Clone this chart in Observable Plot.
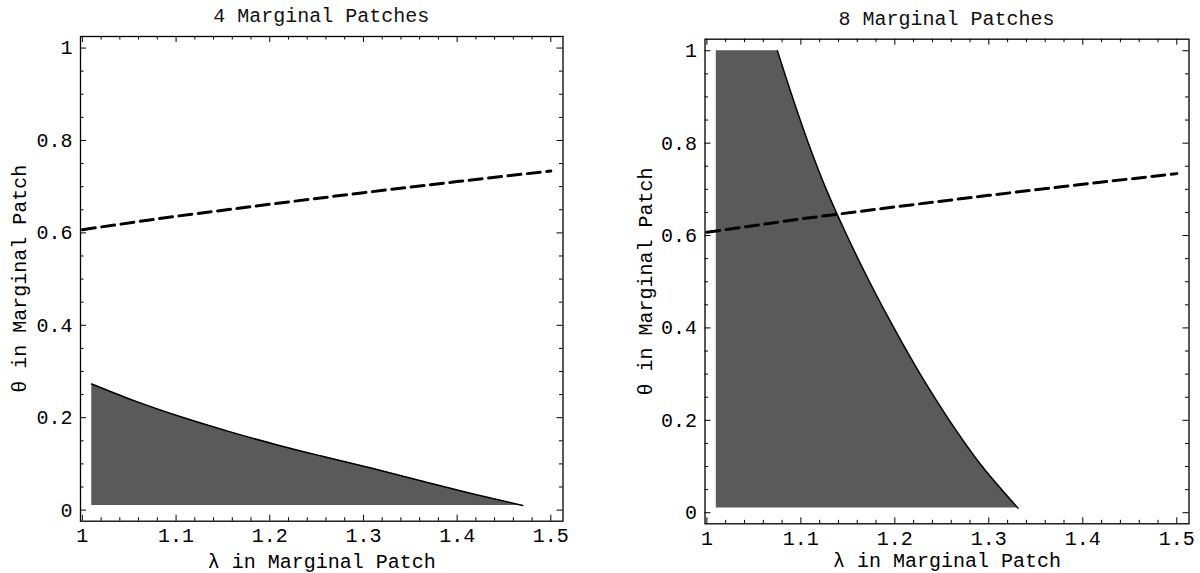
<!DOCTYPE html>
<html><head><meta charset="utf-8">
<script src="https://cdn.jsdelivr.net/npm/d3@7"></script>
<script src="https://cdn.jsdelivr.net/npm/@observablehq/plot@0.6"></script>
<style>
html,body{margin:0;padding:0;background:#fff;}
#wrap{position:relative;width:1200px;height:573px;overflow:hidden;font-family:"Liberation Mono","Courier New",monospace;background:#fff;}
.panel{position:absolute;top:0;width:600px;height:573px;}
.title{position:absolute;font-size:20px;line-height:20px;text-align:center;color:#111;white-space:pre;z-index:2;}
.panel svg{position:absolute;left:0;z-index:1;}
</style></head><body><div id="wrap"></div>
<script>
// ---- data ----
const titles = ["4 Marginal Patches", "8 Marginal Patches"];
const xLabel = "λ in Marginal Patch";
const yLabel = "θ in Marginal Patch";

const xTicks = [1, 1.1, 1.2, 1.3, 1.4, 1.5];
const xTickLabels = ["1", "1.1", "1.2", "1.3", "1.4", "1.5"];
const xMinorTicks = [1.02,1.04,1.06,1.08,1.12,1.14,1.16,1.18,1.22,1.24,1.26,1.28,1.32,1.34,1.36,1.38,1.42,1.44,1.46,1.48];
const yTicks = [0, 0.2, 0.4, 0.6, 0.8, 1];
const yTickLabels = ["0", "0.2", "0.4", "0.6", "0.8", "1"];
const yMinorTicks = [0.05,0.1,0.15,0.25,0.3,0.35,0.45,0.5,0.55,0.65,0.7,0.75,0.85,0.9,0.95];

const xDomain = [0.998, 1.513];
const yDomain = [-0.024, 1.025];

// dashed line (same in both panels)
const lambdaDash = [1.0, 1.1, 1.2, 1.3, 1.4, 1.5];
const thetaDash  = [0.607, 0.636, 0.662, 0.687, 0.711, 0.734];

// 4 marginal patches: shaded region under theta(lambda)
const lambda4 = [1.01, 1.055, 1.105, 1.155, 1.21, 1.255, 1.308, 1.36, 1.415, 1.47];
const theta4  = [0.273, 0.237, 0.202, 0.171, 0.140, 0.117, 0.091, 0.064, 0.036, 0.01];
const theta4Base = 0.01;

// 8 marginal patches: shaded region left of lambda(theta)
const theta8  = [1.0, 0.9, 0.8, 0.7, 0.6, 0.5, 0.4, 0.3, 0.2, 0.1, 0.01];
const lambda8 = [1.075, 1.091, 1.108, 1.127, 1.149, 1.173, 1.199, 1.227, 1.258, 1.293, 1.331];
const lambda8Base = 1.01;

// ---- layout ----
const panels = [
  {left: 0,   titleTop: 7,  svgTop: 24, mt: 12,   mb: 52.3, ml: 80,    mr: 37.5, yLabelOffset: 69, xLabelOffset: 47},
  {left: 600, titleTop: 10, svgTop: 24, mt: 14.7, mb: 49.7, ml: 104.5, mr: 11.5, yLabelOffset: 67, xLabelOffset: 43}
];
const W = 600, H = 573 - 24;
const fill = "#5a5a5a";

const dash = lambdaDash.map((x, i) => ({x, y: thetaDash[i]}));
const region4 = lambda4.map((x, i) => ({x, y: theta4[i], base: theta4Base}));
const region8 = theta8.map((y, i) => ({y, x: lambda8[i], base: lambda8Base}));

const wrap = document.getElementById("wrap");

panels.forEach((p, k) => {
  const div = document.createElement("div");
  div.className = "panel";
  div.style.left = p.left + "px";

  const innerW = W - p.ml - p.mr, innerH = H - p.mt - p.mb;
  const xpp = (xDomain[1] - xDomain[0]) / innerW;
  const ypp = (yDomain[1] - yDomain[0]) / innerH;
  const major = 6, minor = 3.5;

  const tickMarks = [
    Plot.ruleX(xTicks, {x: d => d, y1: yDomain[0], y2: yDomain[0] + major * ypp, stroke: "black"}),
    Plot.ruleX(xMinorTicks, {x: d => d, y1: yDomain[0], y2: yDomain[0] + minor * ypp, stroke: "black"}),
    Plot.ruleX(xTicks, {x: d => d, y1: yDomain[1] - major * ypp, y2: yDomain[1], stroke: "black"}),
    Plot.ruleX(xMinorTicks, {x: d => d, y1: yDomain[1] - minor * ypp, y2: yDomain[1], stroke: "black"}),
    Plot.ruleY(yTicks, {y: d => d, x1: xDomain[0], x2: xDomain[0] + major * xpp, stroke: "black"}),
    Plot.ruleY(yMinorTicks, {y: d => d, x1: xDomain[0], x2: xDomain[0] + minor * xpp, stroke: "black"}),
    Plot.ruleY(yTicks, {y: d => d, x1: xDomain[1] - major * xpp, x2: xDomain[1], stroke: "black"}),
    Plot.ruleY(yMinorTicks, {y: d => d, x1: xDomain[1] - minor * xpp, x2: xDomain[1], stroke: "black"})
  ];

  const regionMarks = k === 0 ? [
    Plot.areaY(region4, {x: "x", y1: "base", y2: "y", fill, curve: "monotone-x"}),
    Plot.line(region4, {x: "x", y: "y", stroke: "black", strokeWidth: 1.5, curve: "monotone-x"})
  ] : [
    Plot.areaX(region8, {y: "y", x1: "base", x2: "x", fill, curve: "monotone-y"}),
    Plot.line(region8, {x: "x", y: "y", stroke: "black", strokeWidth: 1.5, curve: "monotone-y"})
  ];

  const svg = Plot.plot({
    width: W, height: H,
    marginTop: p.mt, marginBottom: p.mb, marginLeft: p.ml, marginRight: p.mr,
    x: {domain: xDomain},
    y: {domain: yDomain},
    style: {fontFamily: '"Liberation Mono","Courier New",monospace', fontSize: "20px", color: "black", background: "white"},
    marks: [
      ...regionMarks,
      Plot.line(dash, {x: "x", y: "y", stroke: "black", strokeWidth: 3, strokeDasharray: "13,6.5"}),
      ...tickMarks,
      Plot.frame({stroke: "black", strokeWidth: 1.3}),
      Plot.axisX({ticks: xTicks, tickSize: 0, tickPadding: 7, tickFormat: d => xTickLabels[xTicks.indexOf(d)],
        label: xLabel, labelAnchor: "center", labelOffset: p.xLabelOffset, labelArrow: false, fill: "black"}),
      Plot.axisY({ticks: yTicks, tickSize: 0, tickPadding: 8, tickFormat: d => yTickLabels[yTicks.indexOf(d)],
        label: yLabel, labelAnchor: "center", labelOffset: p.yLabelOffset, labelArrow: false, fill: "black"})
    ]
  });
  svg.style.top = p.svgTop + "px";
  div.appendChild(svg);

  const t = document.createElement("div");
  t.className = "title";
  t.textContent = titles[k];
  t.style.left = p.ml + "px";
  t.style.width = (W - p.ml - p.mr) + "px";
  t.style.top = p.titleTop + "px";
  div.appendChild(t);

  wrap.appendChild(div);
});
</script></body></html>
